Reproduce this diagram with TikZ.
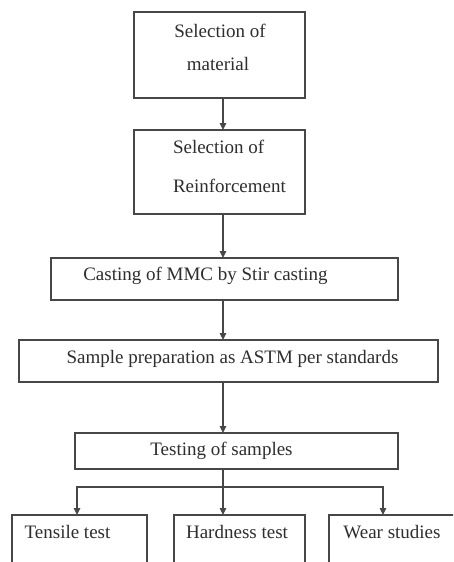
\documentclass[tikz,border=0pt]{standalone}
\usepackage{fontspec}
\setmainfont{Liberation Serif}
\usetikzlibrary{arrows.meta}
\definecolor{ln}{HTML}{474747}
\definecolor{tx}{HTML}{2E2E2E}
\tikzset{
  box/.style={draw=ln, line width=1.3pt, inner sep=0pt, outer sep=0pt, rectangle},
  lbl/.style={inner sep=0pt, outer sep=0pt, text=tx, font=\fontsize{19}{23}\selectfont},
  arr/.style={draw=ln, line width=1.3pt, -{Triangle[width=6.5pt,length=7pt]}},
  ln/.style={draw=ln, line width=1.3pt}
}
\begin{document}
\begin{tikzpicture}[x=1pt,y=-1pt]
\useasboundingbox (0,0) rectangle (453,562);
\clip (0,0) rectangle (453,562);
\fill[white] (0,0) rectangle (453,562);
% boxes
\node[box, minimum width=171pt, minimum height=86pt] (b1) at (219.5,55) {};
\node[box, minimum width=171pt, minimum height=84pt] (b2) at (219.5,172) {};
\node[box, minimum width=347pt, minimum height=42pt] (b3) at (224.5,279) {};
\node[box, minimum width=419pt, minimum height=42pt] (b4) at (228.5,361) {};
\node[box, minimum width=323pt, minimum height=36pt] (b5) at (236.5,451) {};
\node[box, minimum width=135pt, minimum height=100pt] (b6) at (79.5,565) {};
\node[box, minimum width=131pt, minimum height=100pt] (b7) at (239.5,565) {};
\node[box, minimum width=130pt, minimum height=100pt] (b8) at (394,565) {};
% texts
\node[lbl, anchor=base] (t1a) at (220,37) {Selection of};
\node[lbl, anchor=base] (t1b) at (218,70) {material};
\node[lbl, anchor=base west] (t2a) at (173,153) {Selection of};
\node[lbl, anchor=base west] (t2b) at (173,192) {Reinforcement};
\node[lbl, anchor=base] (t3) at (205.5,280) {Casting of MMC by Stir casting};
\node[lbl, anchor=base] (t4) at (232.5,363) {Sample preparation as ASTM per standards};
\node[lbl, anchor=base] (t5) at (221.5,455) {Testing of samples};
\node[lbl, anchor=base] (t6) at (67.5,538) {Tensile test};
\node[lbl, anchor=base] (t7) at (237,538) {Hardness test};
\node[lbl, anchor=base] (t8) at (392,538) {Wear studies};
% connector coordinates
\coordinate (cx) at (223,0);
\coordinate (lx) at (77,0);
\coordinate (rx) at (383,0);
\coordinate (br) at (223,487);
\draw[arr] (b1.south -| cx) -- (b2.north -| cx);
\draw[arr] (b2.south -| cx) -- (b3.north -| cx);
\draw[arr] (b3.south -| cx) -- (b4.north -| cx);
\draw[arr] (b4.south -| cx) -- (b5.north -| cx);
\draw[ln] (b5.south -| cx) -- (br);
\draw[arr] (br) -| (b6.north -| lx);
\draw[arr] (br) -| (b8.north -| rx);
\draw[arr] (br) -- (b7.north -| cx);
\end{tikzpicture}
\end{document}
